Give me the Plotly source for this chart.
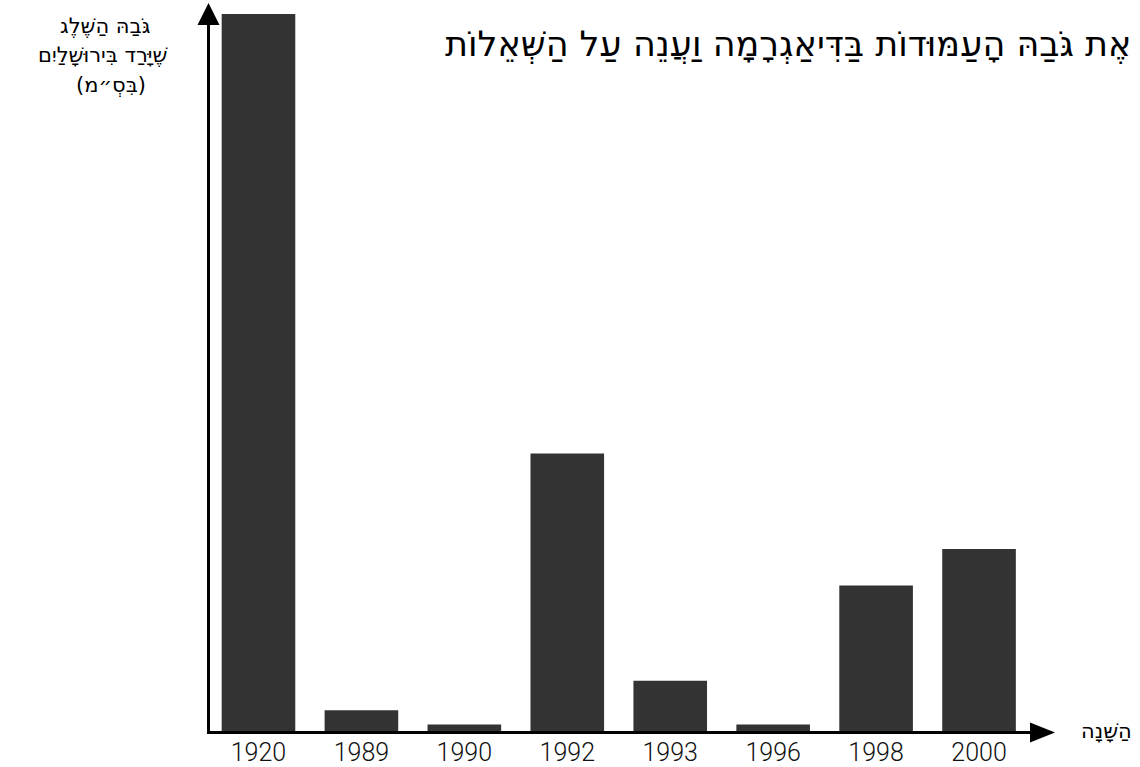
import plotly.graph_objects as go

# ---- data ----
years = ["1920", "1989", "1990", "1992", "1993", "1996", "1998", "2000"]
snow_cm = [100, 2.9, 0.9, 38.7, 7.0, 0.9, 20.3, 25.4]

y_title_lines = ["גֹּבַהּ הַשֶּׁלֶג", "שֶׁיָּרַד בִּירוּשָׁלַיִם", "(בִּסְ״מ)"]
x_title = "הַשָּׁנָה"
top_text = "אֶת גֹּבַהּ הָעַמּוּדוֹת בַּדִּיאַגְרָמָה וַעֲנֵה עַל הַשְּׁאֵלוֹת"

# ---- geometry (pixels) ----
W, H = 1140, 767
L, R_EDGE, T, B_EDGE = 209.5, 1052, 12, 731.5
plot_w = R_EDGE - L
plot_h = B_EDGE - T
cat_step = 103.0
first_center = 258.0
px_per_unit = (B_EDGE - 14) / 100.0

x0 = -(first_center - L) / cat_step
x1 = x0 + plot_w / cat_step
y1 = plot_h / px_per_unit


def px(xp):
    return (xp - L) / plot_w


def py(yp):
    return (B_EDGE - yp) / plot_h


hebrew_font = "DejaVu Sans, Liberation Sans, sans-serif"

fig = go.Figure(
    go.Bar(
        x=years,
        y=snow_cm,
        marker=dict(color="#333333", line=dict(width=0)),
        hoverinfo="x+y",
    )
)

fig.update_layout(
    width=W,
    height=H,
    margin=dict(l=L, r=W - R_EDGE, t=T, b=H - B_EDGE, autoexpand=False),
    paper_bgcolor="white",
    plot_bgcolor="white",
    bargap=0.285,
    showlegend=False,
    xaxis=dict(
        type="category",
        range=[x0, x1],
        automargin=False,
        showgrid=False,
        zeroline=False,
        showline=True,
        linecolor="black",
        linewidth=3,
        ticks="",
        ticklabelstandoff=-3,
        tickfont=dict(family="Roboto, Lato, sans-serif", size=25, color="#111111", weight=300),
        fixedrange=True,
    ),
    yaxis=dict(
        range=[0, y1],
        automargin=False,
        showgrid=False,
        zeroline=False,
        showline=True,
        linecolor="black",
        linewidth=3,
        showticklabels=False,
        ticks="",
        fixedrange=True,
    ),
)

# arrowheads
fig.add_shape(
    type="path", xref="paper", yref="paper",
    xsizemode="pixel", ysizemode="pixel",
    xanchor=0, yanchor=1,
    path="M -12.5 -13 L -1.5 9 L 9.5 -13 Z",
    fillcolor="black", line=dict(width=0),
)
fig.add_shape(
    type="path", xref="paper", yref="paper",
    xsizemode="pixel", ysizemode="pixel",
    xanchor=1, yanchor=0,
    path="M -22 -11.5 L 3 -1.5 L -22 8.5 Z",
    fillcolor="black", line=dict(width=0),
)

label_x = [105, 102, 110]
label_y = [26, 55, 85]
for txt, lx, ly in zip(y_title_lines, label_x, label_y):
    fig.add_annotation(
        text=txt, xref="paper", yref="paper",
        x=px(lx), y=py(ly), xanchor="center", yanchor="middle",
        showarrow=False, align="center",
        font=dict(family=hebrew_font, size=21, color="black"),
    )
fig.add_annotation(
    text=x_title, xref="paper", yref="paper",
    x=px(1107), y=py(732), xanchor="center", yanchor="middle",
    showarrow=False,
    font=dict(family=hebrew_font, size=21, color="black"),
)
fig.add_annotation(
    text=top_text, xref="paper", yref="paper",
    x=px(443), y=py(44), xanchor="left", yanchor="middle",
    showarrow=False,
    font=dict(family=hebrew_font, size=35, color="black"),
)

fig.write_html(
    "out.html",
    config={"displayModeBar": False},
    post_script="document.body.style.margin='0';document.body.style.overflow='hidden';",
)
